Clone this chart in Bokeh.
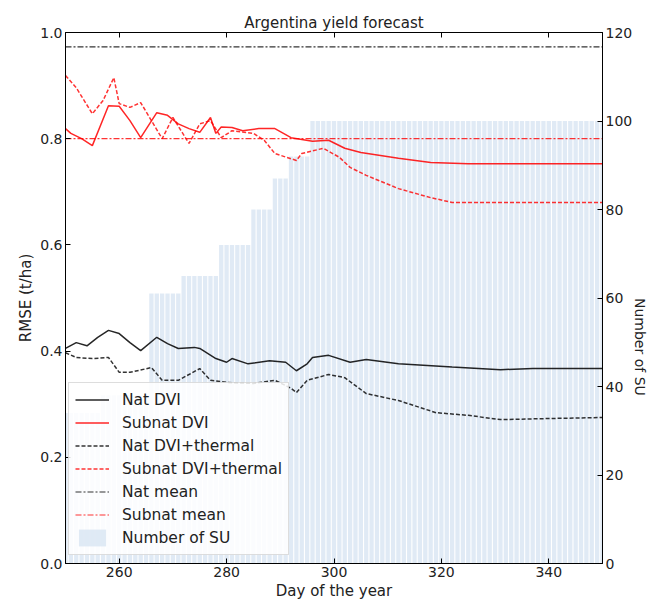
import math
from bokeh.plotting import figure
from bokeh.models import Range1d, LinearAxis, Legend, LegendItem, FixedTicker, PrintfTickFormatter
from bokeh.embed import file_html
from bokeh.resources import INLINE

FONT = "DejaVu Sans"

# ---- data ----
su_days = list(range(250, 351))
su_counts = [34, 34, 34, 34, 34, 34, 34,
             38, 38, 38, 38, 38, 38, 38, 38, 38,
             61, 61, 61, 61, 61, 61,
             65, 65, 65, 65, 65, 65, 65,
             72, 72, 72, 72, 72, 72,
             80, 80, 80, 80,
             87, 87, 87,
             92, 92, 92, 92,
             100, 100, 100, 100, 100, 100, 100, 100, 100, 100,
             100, 100, 100, 100, 100, 100, 100, 100, 100, 100,
             100, 100, 100, 100, 100, 100, 100, 100, 100, 100,
             100, 100, 100, 100, 100, 100, 100, 100, 100, 100,
             100, 100, 100, 100, 100, 100, 100, 100, 100, 100,
             100, 100, 100, 100, 100]

nat_dvi_days = [250, 252, 254, 256, 258, 260, 262, 264, 267, 269, 271, 274, 275, 278, 280,
                281, 284, 288, 291, 293, 295, 296, 299, 303, 306, 312, 322, 331, 337, 350]
nat_dvi = [0.405, 0.416, 0.410, 0.426, 0.439, 0.433, 0.416, 0.401, 0.426, 0.414, 0.405, 0.407, 0.405, 0.386, 0.379,
           0.386, 0.376, 0.382, 0.379, 0.363, 0.376, 0.388, 0.392, 0.379, 0.384, 0.376, 0.370, 0.365, 0.367, 0.367]

nat_th_days = [250, 252, 255, 258, 260, 262, 266, 268, 271, 275, 277, 280, 285, 289, 292,
               293, 295, 299, 302, 306, 312, 319, 325, 331, 340, 350]
nat_th = [0.397, 0.388, 0.386, 0.388, 0.360, 0.360, 0.369, 0.345, 0.345, 0.367, 0.345, 0.341, 0.339, 0.345, 0.330,
          0.322, 0.345, 0.356, 0.350, 0.320, 0.307, 0.284, 0.279, 0.271, 0.273, 0.275]

sub_dvi_days = [250, 251, 253, 255, 258, 260, 262, 264, 267, 269, 271, 273, 275, 277, 278,
                279, 281, 283, 286, 289, 292, 296, 299, 302, 305, 312, 318, 325, 350]
sub_dvi = [0.819, 0.810, 0.800, 0.787, 0.862, 0.861, 0.834, 0.802, 0.849, 0.844, 0.828, 0.819, 0.812, 0.840, 0.810,
           0.822, 0.821, 0.815, 0.819, 0.819, 0.802, 0.795, 0.797, 0.782, 0.774, 0.763, 0.755, 0.753, 0.753]

sub_th_days = [250, 252, 255, 257, 259, 260, 262, 264, 266, 268, 270, 273, 275, 277, 279,
               281, 285, 287, 289, 293, 294, 298, 301, 303, 306, 312, 318, 322, 350]
sub_th = [0.919, 0.896, 0.847, 0.872, 0.915, 0.866, 0.859, 0.868, 0.834, 0.800, 0.840, 0.791, 0.828, 0.834, 0.802,
          0.815, 0.810, 0.797, 0.772, 0.759, 0.772, 0.782, 0.765, 0.746, 0.731, 0.706, 0.689, 0.680, 0.680]

mean_days = [250, 350]
nat_mean = [0.973, 0.973]
sub_mean = [0.800, 0.800]

x_ticks = [260, 280, 300, 320, 340]
y_ticks = [0.0, 0.2, 0.4, 0.6, 0.8, 1.0]
su_ticks = [0, 20, 40, 60, 80, 100, 120]

# ---- figure ----
p = figure(frame_width=537, frame_height=531,
           x_range=Range1d(250, 350), y_range=Range1d(0, 1),
           output_backend="svg", toolbar_location=None,
           min_border_left=65, min_border_right=5, min_border_top=32, min_border_bottom=5,
           title="Argentina yield forecast")
p.title.align = "center"
p.title.text_font = FONT
p.title.text_font_size = "15px"
p.title.text_font_style = "normal"
p.title.text_color = "#222222"
p.title.standoff = 2
p.xgrid.visible = False
p.ygrid.visible = False
p.outline_line_color = "black"
p.outline_line_width = 1
p.background_fill_color = "white"

bottom_axis = p.below[0]
left_axis = p.left[0]

p.extra_y_ranges = {"su": Range1d(0, 120)}
right_axis = LinearAxis(y_range_name="su", axis_label="Number of SU")
p.add_layout(right_axis, "right")
top_axis = LinearAxis()
p.add_layout(top_axis, "above")

bottom_axis.ticker = FixedTicker(ticks=x_ticks)
top_axis.ticker = FixedTicker(ticks=x_ticks)
left_axis.ticker = FixedTicker(ticks=y_ticks)
left_axis.formatter = PrintfTickFormatter(format="%.1f")
right_axis.ticker = FixedTicker(ticks=su_ticks)

bottom_axis.axis_label = "Day of the year"
left_axis.axis_label = "RMSE (t/ha)"

for ax in [bottom_axis, left_axis, right_axis, top_axis]:
    ax.major_tick_in = 5
    ax.major_tick_out = 0
    ax.minor_tick_line_color = None
    ax.axis_line_color = "black"
    ax.major_tick_line_color = "black"
    ax.major_label_text_font = FONT
    ax.major_label_text_font_size = "14px"
    ax.major_label_text_color = "#222222"
    ax.axis_label_text_font = FONT
    ax.axis_label_text_font_size = "15px"
    ax.axis_label_text_font_style = "normal"
    ax.axis_label_text_color = "#222222"
    ax.axis_label_standoff = 2
    ax.major_label_standoff = 3
top_axis.major_label_text_color = None
top_axis.major_label_standoff = 0
right_axis.axis_label_orientation = -math.pi / 2
right_axis.axis_label_standoff = 5
right_axis.major_label_standoff = 3
right_axis.axis_label_text_font_size = "14px"

bars = p.vbar(x=su_days, top=su_counts, width=0.8, bottom=0, y_range_name="su",
              fill_color="#d8e5f2", fill_alpha=0.8, line_color=None)

r1 = p.line(nat_dvi_days, nat_dvi, line_color="black", line_width=1.5, line_alpha=0.85)
r2 = p.line(sub_dvi_days, sub_dvi, line_color="red", line_width=1.5, line_alpha=0.85)
r3 = p.line(nat_th_days, nat_th, line_color="black", line_width=1.5, line_alpha=0.8, line_dash="4 2")
r4 = p.line(sub_th_days, sub_th, line_color="red", line_width=1.5, line_alpha=0.8, line_dash="4 2")
r5 = p.line(mean_days, nat_mean, line_color="black", line_width=1.2, line_alpha=0.8, line_dash="6 2 2 2")
r6 = p.line(mean_days, sub_mean, line_color="red", line_width=1.2, line_alpha=0.8, line_dash="6 2 2 2")

legend = Legend(items=[
    LegendItem(label="Nat DVI", renderers=[r1]),
    LegendItem(label="Subnat DVI", renderers=[r2]),
    LegendItem(label="Nat DVI+thermal", renderers=[r3]),
    LegendItem(label="Subnat DVI+thermal", renderers=[r4]),
    LegendItem(label="Nat mean", renderers=[r5]),
    LegendItem(label="Subnat mean", renderers=[r6]),
    LegendItem(label="Number of SU", renderers=[bars]),
], location=(3, 8))
legend.label_text_font = FONT
legend.label_text_font_size = "15.5px"
legend.label_text_color = "#222222"
legend.glyph_width = 34
legend.glyph_height = 21
legend.label_height = 21
legend.label_standoff = 13
legend.spacing = 2
legend.padding = 6
legend.margin = 0
legend.background_fill_color = "white"
legend.background_fill_alpha = 0.85
legend.border_line_color = "#bbbbbb"
p.add_layout(legend)

open("out.html", "w").write(file_html(p, INLINE))
